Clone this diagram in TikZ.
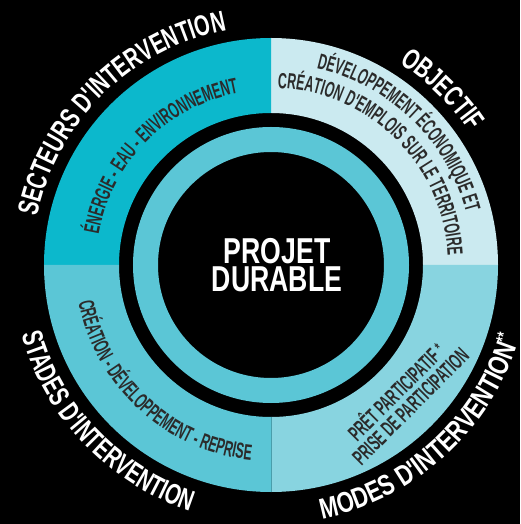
\documentclass[tikz,border=0pt]{standalone}
\usepackage{fontspec}
\usetikzlibrary{decorations.text}
\newfontfamily\outerfont[FakeStretch=0.69]{Liberation Sans}
\newfontfamily\modesfont[FakeStretch=0.76]{Liberation Sans}
\newfontfamily\innerfont[FakeStretch=0.56]{Liberation Sans}
\newfontfamily\centrefont[FakeStretch=0.74]{Liberation Sans}
\definecolor{secteurs}{RGB}{12,184,204}
\definecolor{objectif}{RGB}{203,234,240}
\definecolor{stades}{RGB}{91,198,214}
\definecolor{modes}{RGB}{136,212,224}
\definecolor{anneau}{RGB}{91,198,214}
\definecolor{encre}{RGB}{43,43,43}

\begin{document}
\begin{tikzpicture}[x=1pt,y=1pt,
  outer label/.style={decorate, decoration={text along path, text align=center,
    text color=white, text={|\outerfont\bfseries\fontsize{29}{29}\selectfont|#1}}},
  modes label/.style={decorate, decoration={text along path, text align=center,
    text color=white, text={|\modesfont\bfseries\fontsize{29}{29}\selectfont|#1}}},
  inner label/.style={decorate, decoration={text along path, text align=center,
    text color=encre, text={|\innerfont\bfseries\fontsize{22}{22}\selectfont|#1}}}]

  % fond
  \useasboundingbox (-271,-259) rectangle (249,265);
  \fill[black] (-271,-259) rectangle (249,265);

  % quadrants
  \foreach \a/\c in {0/objectif,90/secteurs,180/stades,270/modes}
    \fill[\c] (\a:227) arc[start angle=\a, end angle=\a+90, radius=227]
      -- (\a+90:152) arc[start angle=\a+90, end angle=\a, radius=152] -- cycle;
  \draw[stades!80!black, line width=0.8] (270:152) -- (270:227);

  % anneau
  \draw[anneau, line width=25] (0,0) circle (125.5);

  % titres
  \path[outer label={SECTEURS D'INTERVENTION}] (224.5:239) arc[start angle=224.5, end angle=44.5, radius=239];
  \path[outer label={OBJECTIF}] (135.7:239) arc[start angle=135.7, end angle=-44.3, radius=239];
  \path[outer label={STADES D'INTERVENTION}] (133.7:259) arc[start angle=133.7, end angle=313.7, radius=259];
  \path[modes label={MODES D'INTERVENTION}] (221.5:259) arc[start angle=221.5, end angle=401.5, radius=259];
  \node[white, inner sep=0, font=\outerfont\bfseries\fontsize{18}{18}\selectfont, rotate=73] (etoiles) at (342.5:243) {**};

  % contenus
  \path[inner label={ÉNERGIE - EAU - ENVIRONNEMENT}] (225.3:175) arc[start angle=225.3, end angle=45.3, radius=175];
  \path[inner label={DÉVELOPPEMENT ÉCONOMIQUE ET}] (136:202) arc[start angle=136, end angle=-44, radius=202];
  \path[inner label={CRÉATION D'EMPLOIS SUR LE TERRITOIRE}] (135.5:177) arc[start angle=135.5, end angle=-44.5, radius=177];
  \path[inner label={CRÉATION - DÉVELOPPEMENT - REPRISE}] (137.5:196) arc[start angle=137.5, end angle=317.5, radius=196];
  \node[text=encre, font=\innerfont\bfseries\fontsize{22}{20}\selectfont, align=center, rotate=45] (modes)
    at (131,-133) {PRÊT PARTICIPATIF\,\raisebox{0.25ex}{\fontsize{17}{17}\selectfont*}\\PRISE DE PARTICIPATION};

  % centre
  \node[white, font=\centrefont\bfseries\fontsize{36}{28}\selectfont, align=center] (projet) at (6,0) {PROJET\\DURABLE};
\end{tikzpicture}
\end{document}
